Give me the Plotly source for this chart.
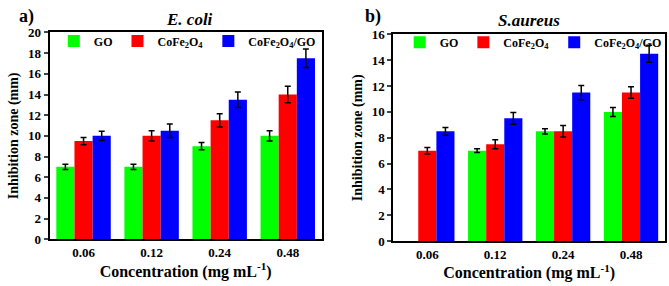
import plotly.graph_objects as go

categories = ["0.06", "0.12", "0.24", "0.48"]
series_names = ["GO", "CoFe<sub>2</sub>O<sub>4</sub>", "CoFe<sub>2</sub>O<sub>4</sub>/GO"]
colors = ["#00FF00", "#FF0000", "#0000FF"]

ecoli_go = [7, 7, 9, 10]
ecoli_cofe = [9.5, 10, 11.5, 14]
ecoli_comp = [10, 10.5, 13.5, 17.5]
ecoli_go_err = [0.25, 0.25, 0.35, 0.5]
ecoli_cofe_err = [0.35, 0.5, 0.65, 0.8]
ecoli_comp_err = [0.45, 0.65, 0.75, 0.9]

saureus_go = [None, 7, 8.5, 10]
saureus_cofe = [7, 7.5, 8.5, 11.5]
saureus_comp = [8.5, 9.5, 11.5, 14.5]
saureus_go_err = [0, 0.15, 0.2, 0.35]
saureus_cofe_err = [0.25, 0.35, 0.45, 0.45]
saureus_comp_err = [0.3, 0.45, 0.55, 0.65]

FONT = "Liberation Serif"

fig = go.Figure()

def add_panel(vals, errs, xa, ya, legend):
    for name, v, e, c in zip(series_names, vals, errs, colors):
        fig.add_trace(go.Bar(
            x=categories, y=v, name=name, marker=dict(color=c, line=dict(width=0)),
            error_y=dict(type="data", array=e, color="black", thickness=1.5, width=3),
            xaxis=xa, yaxis=ya, legend=legend,
        ))

add_panel([ecoli_go, ecoli_cofe, ecoli_comp],
          [ecoli_go_err, ecoli_cofe_err, ecoli_comp_err], "x", "y", "legend")
add_panel([saureus_go, saureus_cofe, saureus_comp],
          [saureus_go_err, saureus_cofe_err, saureus_comp_err], "x2", "y2", "legend2")

axis_common = dict(showline=True, linecolor="black", linewidth=2, mirror=True,
                   showgrid=False, zeroline=False,
                   tickfont=dict(size=13, color="black", weight="bold"))

xt = dict(text="<b>Concentration (mg mL<sup>-1</sup>)</b>",
          font=dict(size=16, color="black"), standoff=4)
yt = dict(text="<b>Inhibition zone (mm)</b>",
          font=dict(size=14, color="black"), standoff=6)

fig.update_layout(
    width=669, height=286,
    margin=dict(l=0, r=0, t=0, b=0),
    plot_bgcolor="white", paper_bgcolor="white",
    barmode="group", bargap=0.2, bargroupgap=0,
    showlegend=True,
    font=dict(family=FONT, color="black"),
    xaxis=dict(domain=[0.074, 0.481], anchor="y", ticks="", title=xt,
               range=[-0.5, 3.5], **axis_common),
    yaxis=dict(domain=[0.143, 0.906], anchor="x", range=[0, 20], dtick=2,
               ticks="outside", ticklen=4, tickwidth=2, title=yt, **axis_common),
    xaxis2=dict(domain=[0.588, 0.994], anchor="y2", ticks="", title=xt,
                range=[-0.5, 3.5], **axis_common),
    yaxis2=dict(domain=[0.136, 0.899], anchor="x2", range=[0, 16], dtick=2,
                ticks="outside", ticklen=4, tickwidth=2, title=yt, **axis_common),
    legend=dict(orientation="h", x=0.28, y=0.875, xanchor="center", yanchor="middle",
                bgcolor="rgba(0,0,0,0)", itemwidth=30, tracegroupgap=0,
                font=dict(size=12, color="black", weight="bold")),
    legend2=dict(orientation="h", x=0.797, y=0.87, xanchor="center", yanchor="middle",
                 bgcolor="rgba(0,0,0,0)", itemwidth=30, tracegroupgap=0,
                 font=dict(size=12, color="black", weight="bold")),
    annotations=[
        dict(text="<i>E. coli</i>", x=0.284, y=0.955, xref="paper", yref="paper",
             xanchor="center", yanchor="middle", showarrow=False,
             font=dict(size=17, color="black", weight="bold")),
        dict(text="<i>S.aureus</i>", x=0.79, y=0.95, xref="paper", yref="paper",
             xanchor="center", yanchor="middle", showarrow=False,
             font=dict(size=17, color="black", weight="bold")),
        dict(text="a)", x=0.04, y=0.965, xref="paper", yref="paper",
             xanchor="center", yanchor="middle", showarrow=False,
             font=dict(size=18, color="black", weight="bold")),
        dict(text="b)", x=0.557, y=0.965, xref="paper", yref="paper",
             xanchor="center", yanchor="middle", showarrow=False,
             font=dict(size=18, color="black", weight="bold")),
    ],
)

fig.write_html("out.html", config={"displayModeBar": False},
               post_script="document.body.style.margin='0';document.body.style.overflow='hidden';")
